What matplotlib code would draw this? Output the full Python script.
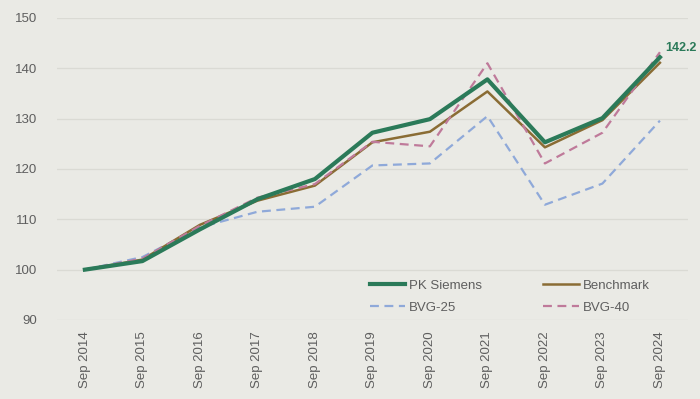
import matplotlib.pyplot as plt

plt.rcParams['font.family'] = ['Liberation Sans', 'DejaVu Sans']

years = ["Sep 2014", "Sep 2015", "Sep 2016", "Sep 2017", "Sep 2018", "Sep 2019",
         "Sep 2020", "Sep 2021", "Sep 2022", "Sep 2023", "Sep 2024"]

pk_siemens = [100, 101.7, 108.0, 114.0, 118.0, 127.2, 129.9, 137.8, 125.3, 130.1, 142.2]
benchmark = [100, 102.0, 108.9, 113.7, 116.7, 125.3, 127.4, 135.4, 124.3, 129.7, 141.1]
bvg_25 = [100, 102.5, 108.4, 111.5, 112.5, 120.7, 121.1, 130.5, 112.9, 117.1, 129.6]
bvg_40 = [100, 102.2, 108.7, 114.3, 117.0, 125.4, 124.5, 141.0, 121.1, 127.2, 143.2]

bg = "#EAEAE5"
txt = "#5E5E5E"
x = list(range(len(years)))

fig = plt.figure(figsize=(7, 3.99), dpi=100, facecolor=bg)
ax = fig.add_axes([0.081, 0.198, 0.902, 0.757], facecolor=bg)

ax.plot(x, bvg_25, color="#8FA9D9", lw=1.6, dashes=(4, 2.5), label="BVG-25")
ax.plot(x, benchmark, color="#8A6C34", lw=1.8, label="Benchmark")
ax.plot(x, bvg_40, color="#BF7A9A", lw=1.6, dashes=(4, 2.5), label="BVG-40")
ax.plot(x, pk_siemens, color="#2B7A59", lw=3.0, label="PK Siemens")

ax.annotate(f"{pk_siemens[-1]:.1f}", (x[-1], pk_siemens[-1]), xytext=(4, 2),
            textcoords="offset points", color="#2B7A59", fontweight="bold",
            fontsize=9, va="bottom", ha="left", annotation_clip=False)

ax.set_xlim(-0.49, 10.49)
ax.set_ylim(90, 150)
ax.set_yticks(range(90, 151, 10))
ax.set_xticks(x)
ax.set_xticklabels(years, rotation=90)
ax.tick_params(axis="both", length=0, colors=txt, labelsize=9.5)
ax.tick_params(axis="y", pad=14)
ax.tick_params(axis="x", pad=8)
ax.grid(axis="y", color="#DADAD4", lw=0.9)
ax.set_axisbelow(True)
for s in ax.spines.values():
    s.set_visible(False)

# legend filled column-wise: PK Siemens / BVG-25 | Benchmark / BVG-40
h, l = ax.get_legend_handles_labels()
order = [3, 0, 1, 2]
ax.legend([h[i] for i in order], [l[i] for i in order], ncol=2, frameon=False,
          loc="lower left", bbox_to_anchor=(0.477, -0.018), fontsize=9.5,
          labelcolor=txt, handlelength=2.7, handletextpad=0.3,
          columnspacing=4.6, labelspacing=0.7)

fig.savefig("out.png", dpi=100, facecolor=bg)
